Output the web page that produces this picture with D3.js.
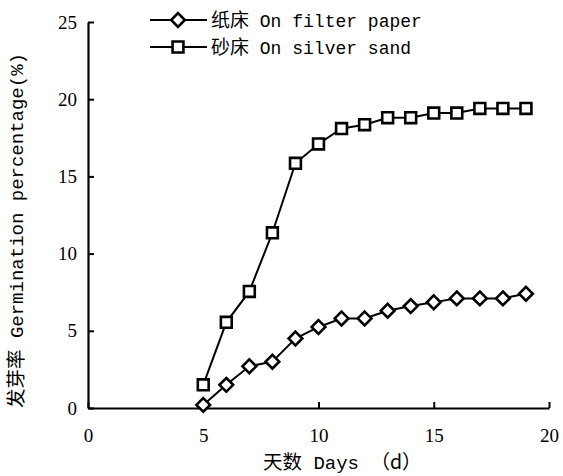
<!DOCTYPE html>
<html>
<head>
<meta charset="utf-8">
<script src="https://cdn.jsdelivr.net/npm/d3@7"></script>
<style>
  body { margin: 0; background: #fff; }
  text { fill: #000; }
</style>
</head>
<body>
<div id="chart"></div>
<script>
// dades llegides de la figura
const days = [5, 6, 7, 8, 9, 10, 11, 12, 13, 14, 15, 16, 17, 18, 19];
const filterPaper = [0.2, 1.5, 2.7, 3.0, 4.5, 5.25, 5.8, 5.8, 6.3, 6.6, 6.85, 7.1, 7.1, 7.1, 7.4];
const silverSand = [1.5, 5.55, 7.55, 11.35, 15.85, 17.1, 18.1, 18.35, 18.8, 18.8, 19.1, 19.1, 19.4, 19.4, 19.4];
const xTicks = [0, 5, 10, 15, 20];
const yTicks = [0, 5, 10, 15, 20, 25];
const seriesNames = ["纸床 On filter paper", "砂床 On silver sand"];

const W = 563, H = 476;
const margin = { top: 22, right: 14, bottom: 68, left: 88 };
const width = W - margin.left - margin.right;
const height = H - margin.top - margin.bottom;

const latin = "'Liberation Mono', 'DejaVu Sans Mono', monospace";
const numFont = "'Liberation Serif', 'DejaVu Serif', serif";
const cjk = "'Noto Sans CJK SC', sans-serif";

const svg = d3.select("#chart").append("svg")
  .attr("width", W)
  .attr("height", H)
  .append("g")
  .attr("transform", `translate(${margin.left},${margin.top})`);

// Escales
const x = d3.scaleLinear().domain([0, 20]).range([0, width]);
const y = d3.scaleLinear().domain([0, 25]).range([height, 0]);

// Eixos (ticks cap a dins)
const xAxis = svg.append("g")
  .attr("transform", `translate(0,${height})`)
  .call(d3.axisBottom(x).tickValues(xTicks).tickSize(-6).tickSizeOuter(0).tickPadding(21));

const yAxis = svg.append("g")
  .call(d3.axisLeft(y).tickValues(yTicks).tickSize(-6).tickSizeOuter(0).tickPadding(11));

[xAxis, yAxis].forEach(a => {
  a.attr("font-family", numFont).attr("font-size", 19);
  a.select(".domain").attr("stroke", "#000").attr("stroke-width", 2.2);
  a.selectAll(".tick line").attr("stroke", "#000").attr("stroke-width", 2);
  a.selectAll(".tick text")
    .style("font-family", numFont)
    .style("font-size", "19px")
    .attr("fill", "#000");
});

// Títol eix X
const xl = svg.append("text")
  .attr("x", 263 - margin.left)
  .attr("y", height + 61)
  .attr("text-anchor", "start");
xl.append("tspan").style("font-family", cjk).style("font-size", "19.5px").text("天数");
xl.append("tspan").style("font-family", latin).style("font-size", "19px").text(" Days ");
xl.append("tspan").style("font-family", cjk).style("font-size", "19.5px").text("（d）");

// Títol eix Y
const yl = svg.append("text")
  .attr("transform", `translate(${23 - margin.left},${height}) rotate(-90)`)
  .attr("text-anchor", "start");
yl.append("tspan").style("font-family", cjk).style("font-size", "19.5px").text("发芽率");
yl.append("tspan").style("font-family", latin).style("font-size", "19px").text(" Germination percentage(%)");

// Línies i marcadors
const line = d3.line()
  .x((d, i) => x(days[i]))
  .y(d => y(d));

const diamond = d3.symbol().type(d3.symbolDiamond2).size(120);
const square = d3.symbol().type(d3.symbolSquare2).size(150);

function drawSeries(values, sym) {
  svg.append("path")
    .datum(values)
    .attr("d", line)
    .attr("fill", "none")
    .attr("stroke", "#000")
    .attr("stroke-width", 2);

  svg.selectAll(null)
    .data(values)
    .enter().append("path")
    .attr("transform", (d, i) => `translate(${x(days[i])},${y(d)})`)
    .attr("d", sym)
    .attr("fill", "#fff")
    .attr("stroke", "#000")
    .attr("stroke-width", 2.6);
}

drawSeries(silverSand, square);
drawSeries(filterPaper, diamond);

// Llegenda
const legend = svg.append("g").attr("transform", `translate(${62},-2)`);
[diamond, square].forEach((sym, i) => {
  const g = legend.append("g").attr("transform", `translate(0,${i * 27})`);
  g.append("line")
    .attr("x1", 0).attr("x2", 57)
    .attr("stroke", "#000").attr("stroke-width", 2);
  g.append("path")
    .attr("transform", "translate(28,0)")
    .attr("d", sym)
    .attr("fill", "#fff")
    .attr("stroke", "#000")
    .attr("stroke-width", 2.6);
  const t = g.append("text")
    .attr("x", 61)
    .attr("y", 7);
  const parts = seriesNames[i].split(" ");
  t.append("tspan").style("font-family", cjk).style("font-size", "19px").text(parts[0]);
  t.append("tspan").style("font-family", latin).style("font-size", "18px").text(" " + parts.slice(1).join(" "));
});
</script>
</body>
</html>
